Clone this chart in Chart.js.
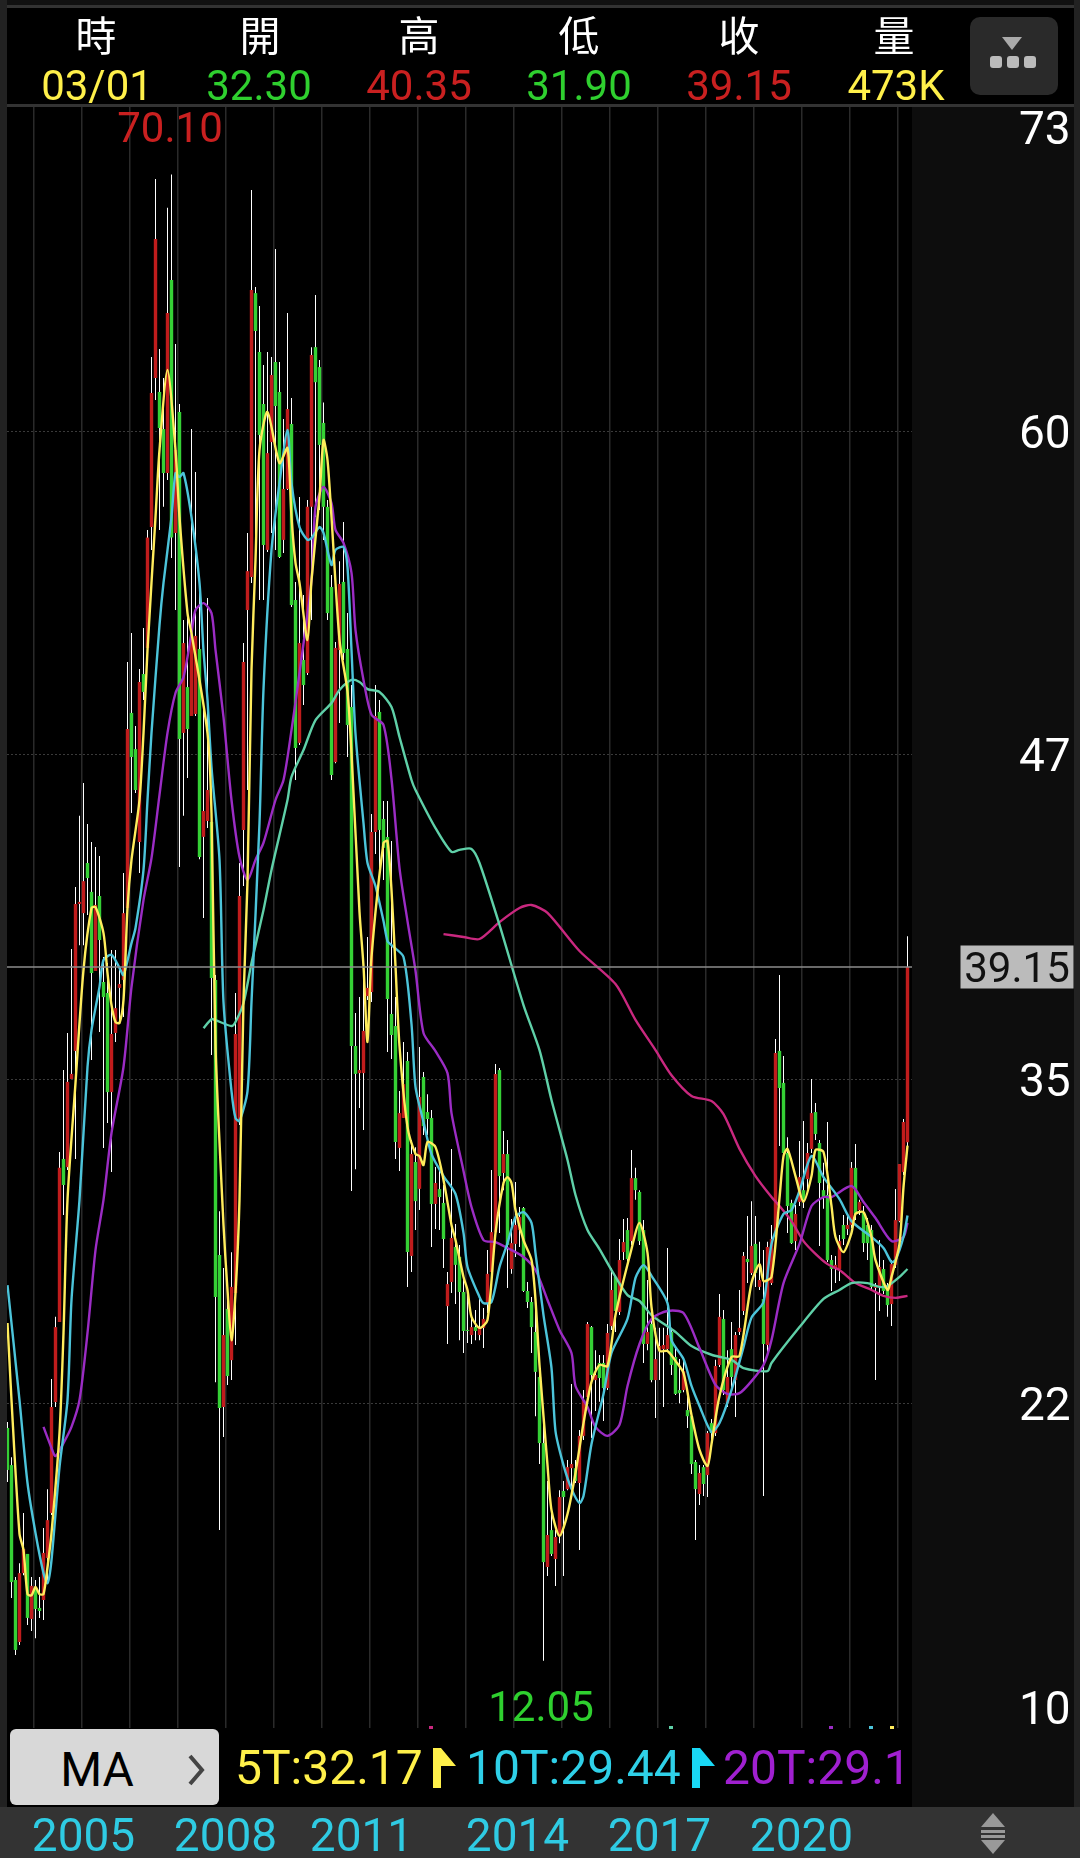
<!DOCTYPE html>
<html>
<head>
<meta charset="utf-8">
<script src="https://cdn.jsdelivr.net/npm/chart.js@4/dist/chart.umd.min.js"></script>
<style>
    html, body { margin: 0; padding: 0; background: #000; }
    body { position: relative; width: 1080px; height: 1858px; overflow: hidden; font-family: Roboto, sans-serif; }
    .box { position: absolute; }
    .t { position: absolute; transform: translate(-50%, -50%); white-space: nowrap; line-height: 1; z-index: 3; }
    .l { position: absolute; transform: translateY(-50%); white-space: nowrap; line-height: 1; z-index: 3; font-size: 48px; }
    .h { font-family: "Noto Sans CJK TC", sans-serif; font-size: 41px; color: #fff; }
    .v { font-size: 42px; }
    .tip { position: absolute; top: 1726px; width: 4px; height: 3px; z-index: 3; }
    canvas { position: absolute; left: 0; top: 0; z-index: 1; }
    svg { position: absolute; z-index: 3; }
</style>
</head>
<body>
<!-- frame and panels -->
<div class="box" style="left:0;top:0;width:1080px;height:5px;background:#111"></div>
<div class="box" style="left:0;top:5px;width:1080px;height:3px;background:#333"></div>
<div class="box" style="left:0;top:104px;width:1080px;height:3px;background:#333"></div>
<div class="box" style="left:0;top:0;width:7px;height:1807px;background:#222"></div>
<div class="box" style="left:912px;top:107px;width:162px;height:1700px;background:#0d0d0d"></div>
<div class="box" style="left:1074px;top:0;width:6px;height:1807px;background:#222"></div>
<div class="box" style="left:0;top:1807px;width:1080px;height:51px;background:#333"></div>

<!-- quote header -->
<div class="t h" style="left:96px;top:33px">時</div>
<div class="t h" style="left:260px;top:33px">開</div>
<div class="t h" style="left:419px;top:33px">高</div>
<div class="t h" style="left:579px;top:33px">低</div>
<div class="t h" style="left:739px;top:33px">收</div>
<div class="t h" style="left:894px;top:33px">量</div>
<div class="t v" style="left:97px;top:86px;color:#fff04a">03/01</div>
<div class="t v" style="left:259px;top:86px;color:#2fd02f">32.30</div>
<div class="t v" style="left:419px;top:86px;color:#c92020">40.35</div>
<div class="t v" style="left:579px;top:86px;color:#2fd02f">31.90</div>
<div class="t v" style="left:739px;top:86px;color:#c92020">39.15</div>
<div class="t v" style="left:896px;top:86px;color:#fff04a">473K</div>
<div class="box" style="left:970px;top:17px;width:88px;height:78px;background:#2a2a2a;border-radius:10px;z-index:2"></div>
<svg style="left:970px;top:17px" width="88" height="78">
    <polygon points="32,20 52,20 42,33" fill="#aaa"/>
    <rect x="20" y="39" width="12" height="12" rx="3" fill="#bbb"/>
    <rect x="37" y="39" width="12" height="12" rx="3" fill="#bbb"/>
    <rect x="54" y="39" width="12" height="12" rx="3" fill="#bbb"/>
</svg>

<!-- high, low and last price labels -->
<div class="t v" style="left:170px;top:128px;color:#c92020">70.10</div>
<div class="t v" style="left:541px;top:1707px;color:#2fd02f">12.05</div>
<div class="t v" style="left:1017px;top:967px;width:113px;height:43px;line-height:43px;text-align:center;background:#bbb;color:#111">39.15</div>

<!-- small arrow tips on the bottom edge of the plot -->
<div class="tip" style="left:429px;background:#c9287f"></div>
<div class="tip" style="left:669px;background:#5fd0a8"></div>
<div class="tip" style="left:829px;background:#9b2cc4"></div>
<div class="tip" style="left:869px;background:#4cc4da"></div>
<div class="tip" style="left:890px;background:#ffec5c"></div>

<!-- MA strip -->
<div class="box" style="left:10px;top:1729px;width:209px;height:76px;background:#d8d8d8;border-radius:6px;z-index:2"></div>
<div class="t" style="left:97px;top:1770px;font-size:48px;color:#000">MA</div>
<svg style="left:184px;top:1752px" width="24" height="36">
    <polyline points="6,4 18,18 6,32" fill="none" stroke="#444" stroke-width="4"/>
</svg>
<div class="l" style="left:235px;top:1768px;color:#fff04a">5T:32.17</div>
<svg style="left:433px;top:1748px" width="24" height="40"><polygon points="0,0 8,0 23,18 8,18 8,40 0,40" fill="#fff04a"/></svg>
<div class="l" style="left:466px;top:1768px;color:#2fd0e8">10T:29.44</div>
<svg style="left:692px;top:1748px" width="24" height="40"><polygon points="0,0 8,0 23,18 8,18 8,40 0,40" fill="#19d8f5"/></svg>
<div class="l" style="left:723px;top:1768px;color:#a020d0">20T:29.1</div>

<!-- sort icon -->
<svg style="left:981px;top:1813px" width="24" height="41">
    <polygon points="12,0 24,14 0,14" fill="#999"/>
    <rect x="0" y="17" width="24" height="3" fill="#999"/>
    <rect x="0" y="22" width="24" height="3" fill="#999"/>
    <polygon points="0,27 24,27 12,41" fill="#999"/>
</svg>

<canvas id="kline" width="1080" height="1858"></canvas>

<script>
// monthly candles, oldest first
const openPrice = [
    21.14,19.69,15.2,12.78,15.47,16.22,13.68,14.89,14.11,14.42,
    16.06,17.82,22.15,25.28,31.65,31.33,34.77,35.87,41.61,41.25,
    43.21,42.08,38.99,41.92,38.56,38.13,34.26,36.57,38.33,38.64,
    41.45,49.07,47.66,44.03,50.59,51.61,56.33,62.15,61.61,60.16,
    58.44,65.98,56.1,60.83,48.29,50.08,48.95,49.03,51.57,44.23,
    44.85,44.81,38.64,27.9,21.96,25.79,23.79,26.41,33.17,44.5,
    53.09,54.38,65.47,63.17,61.14,55.44,59.65,62.78,61.61,55.83,
    57.82,60.36,53.48,47.9,51.14,50.63,57.12,63.36,62.58,60.4,
    57.12,53.99,47.15,51.53,54.19,51.57,49.3,36.06,35.0,35.0,
    38.01,38.17,44.42,49.11,44.93,44.22,37.31,36.84,32.08,33.25,
    35.47,27.86,31.53,30.48,34.85,33.48,33.25,29.89,30.47,29.93,
    25.9,26.84,28.21,27.82,26.45,24.97,24.77,25.08,24.77,25.05,
    26.02,27.23,28.79,35.12,31.1,31.84,27.35,28.33,28.87,29.73,
    26.49,26.06,24.89,23.13,20.55,15.71,17.15,16.02,16.92,18.68,
    18.75,19.57,19.57,18.99,20.83,22.35,25.08,23.01,23.68,23.68,
    22.7,25.12,27.04,25.67,28.01,28.87,28.44,30.9,30.36,28.87,
    24.42,25.2,23.01,24.18,24.22,24.22,24.89,23.91,22.62,22.62,
    21.84,21.6,19.81,18.56,19.61,19.3,21.33,20.94,23.6,25.4,
    22.11,24.22,23.01,24.89,25.71,27.74,27.19,28.33,26.65,26.18,
    24.38,26.8,28.68,35.87,34.62,31.88,29.93,28.44,29.97,30.43,
    30.86,32.04,33.48,32.27,30.43,30.24,27.7,27.35,27.35,29.07,
    28.91,29.07,31.3,29.65,29.57,29.07,28.87,26.61,26.65,27.35,
    26.65,25.98,27.5,29.22,31.14,32.3
];
const closePrice = [
    19.5,15.12,12.47,15.47,16.41,13.72,14.97,14.07,13.99,16.26,
    17.54,21.96,25.08,31.3,30.63,34.66,34.97,41.61,41.69,42.5,
    42.62,38.91,41.57,40.2,37.97,34.26,36.53,37.54,38.48,41.25,
    48.44,47.35,46.06,50.28,49.89,55.92,61.57,67.58,60.2,58.44,
    64.69,55.92,59.34,48.05,51.8,48.44,52.04,52.08,43.44,45.24,
    46.06,38.72,26.26,21.92,24.77,23.17,26.65,36.53,41.92,51.06,
    54.61,65.59,63.99,59.93,55.63,59.22,62.27,61.06,55.16,57.82,
    60.94,53.29,47.7,51.8,50.16,57.12,63.05,61.99,59.54,57.12,
    52.97,46.65,51.61,54.11,51.41,48.6,36.06,34.97,35.12,36.65,
    38.33,44.42,48.95,44.5,43.8,37.9,36.49,32.31,33.44,34.57,
    28.01,31.84,30.0,34.07,32.93,33.21,29.89,30.71,30.16,28.52,
    26.76,28.56,27.51,26.45,24.93,24.93,25.08,24.93,25.05,25.4,
    27.16,28.79,34.97,30.98,31.84,28.29,28.36,29.07,29.38,26.49,
    26.06,25.08,23.33,20.55,15.9,16.96,16.22,16.88,18.44,18.44,
    19.61,19.73,19.07,20.83,22.23,25.2,23.21,23.21,23.09,22.7,
    24.85,26.53,25.71,27.7,28.4,27.74,30.9,30.43,28.44,24.42,
    24.89,23.01,23.83,24.34,24.38,24.77,23.6,22.47,22.5,23.36,
    21.6,19.73,18.75,19.38,18.95,20.94,20.94,23.56,25.48,22.62,
    23.13,23.13,24.77,25.05,27.86,27.62,28.25,27.19,26.92,24.42,
    28.21,28.52,35.79,34.42,31.88,29.81,28.36,29.5,30.94,30.05,
    31.88,33.44,32.62,30.71,30.16,27.7,27.35,27.51,28.44,28.52,
    29.07,31.3,29.5,29.97,28.36,28.36,26.65,26.72,27.43,26.49,
    25.94,27.54,29.26,31.45,33.09,39.15
];
const highPrice = [
    21.37,20.0,15.32,15.86,17.82,16.22,15.32,15.2,15.32,17.23,
    18.75,23.05,25.48,31.92,35.12,36.57,39.85,42.27,45.05,46.33,
    44.73,44.03,43.83,43.48,39.54,39.3,39.81,39.81,39.15,42.82,
    51.06,52.19,48.56,50.79,52.39,56.22,62.97,69.93,63.29,62.15,
    68.8,70.1,63.48,61.14,52.7,52.97,60.16,58.48,54.38,49.42,
    53.56,45.67,38.83,29.61,27.39,26.53,28.0,38.13,43.21,51.8,
    56.1,69.5,65.71,64.97,62.66,63.17,62.97,67.19,62.78,60.55,
    64.69,61.37,54.19,57.51,53.68,57.39,63.36,65.4,62.86,61.2,
    57.39,54.46,51.84,55.0,56.53,52.97,50.16,37.35,37.97,39.34,
    40.32,45.12,50.16,49.58,45.63,45.63,44.07,37.97,34.3,36.22,
    35.83,32.39,32.11,36.02,35.04,34.18,33.56,31.33,31.22,30.63,
    27.23,32.04,29.11,28.29,26.92,26.41,25.48,25.75,26.22,25.83,
    28.09,31.22,35.36,35.2,32.74,32.39,29.3,30.75,29.77,29.77,
    26.84,26.26,26.18,23.44,21.65,19.07,18.09,17.15,18.71,19.07,
    19.89,22.86,19.89,21.06,22.62,25.28,25.12,24.18,23.99,23.99,
    25.2,27.39,27.08,28.52,29.3,29.34,32.0,31.3,30.43,29.26,
    26.92,25.36,25.05,25.05,25.05,28.17,25.05,24.26,23.83,23.83,
    22.35,21.72,19.89,19.69,19.69,21.02,21.49,23.8,26.37,25.75,
    24.18,25.28,24.89,26.53,28.01,29.42,30.0,29.42,28.41,28.09,
    28.41,29.07,36.33,38.83,35.67,32.5,30.05,29.85,32.35,33.13,
    32.27,34.77,33.83,32.39,31.5,33.09,27.9,27.86,28.68,29.46,
    29.46,31.53,32.23,30.05,29.81,29.34,29.07,26.8,28.48,27.7,
    26.8,27.7,30.47,31.45,33.21,40.35
];
const lowPrice = [
    19.03,14.5,12.27,12.66,15.39,13.44,13.21,12.93,13.72,13.64,
    15.08,17.74,21.96,25.28,29.46,31.22,34.77,31.65,40.0,40.0,
    41.18,35.51,38.99,36.61,32.08,33.05,31.14,36.22,36.96,37.19,
    41.25,45.16,45.94,42.82,49.58,51.53,55.44,61.29,56.22,57.12,
    58.17,55.12,53.09,43.05,45.05,46.53,48.95,48.95,43.36,41.06,
    44.58,35.71,22.93,17.15,20.79,22.82,23.01,24.38,32.97,42.31,
    46.06,54.15,55.05,53.48,53.48,55.36,56.1,55.44,55.12,55.32,
    57.78,53.21,46.45,47.82,49.38,50.55,52.7,56.72,57.0,55.83,
    52.7,46.45,47.11,48.68,51.14,47.35,30.4,31.25,33.64,32.78,
    37.86,37.78,43.56,42.94,42.54,35.83,35.55,31.65,31.18,33.25,
    26.65,27.23,28.87,29.65,32.58,32.58,28.21,28.91,28.87,27.39,
    24.42,26.41,25.98,24.57,24.07,24.46,24.42,24.57,24.57,24.26,
    25.63,27.04,28.68,28.76,30.43,26.61,27.16,27.82,28.21,26.45,
    25.83,24.07,21.6,19.73,12.05,15.36,16.14,14.97,16.64,15.36,
    18.71,18.71,18.99,16.37,20.67,22.31,20.75,21.8,22.16,21.41,
    22.62,24.97,24.89,25.55,27.7,27.62,28.29,30.05,28.29,23.68,
    24.18,22.93,21.53,23.01,21.96,24.11,23.21,22.43,22.11,22.54,
    21.14,19.34,16.76,18.13,18.48,18.44,20.67,20.83,23.52,22.43,
    21.96,22.62,21.57,24.77,25.55,26.8,27.12,26.65,26.53,18.48,
    23.99,26.72,28.56,32.15,31.8,28.76,28.33,28.09,29.81,29.73,
    30.43,31.88,32.39,28.25,29.7,27.62,26.49,26.8,26.88,28.29,
    28.68,28.95,29.26,29.46,28.01,27.7,26.53,23.01,25.71,26.37,
    25.48,25.12,27.39,29.18,31.02,31.9
];

// moving averages: [candle index, value]
const ma5 = [[0,25.24],[1,22.23],[3,17.0],[4,16.37],[5,14.65],[6,14.6],[7,14.93],[8,14.65],[9,14.65],[10,15.7],[11,17.04],[13,20.94],[14,24.85],[15,30.05],[17,34.62],[19,39.03],[21,41.45],[22,41.49],[24,40.47],[25,38.91],[26,37.66],[27,37.0],[28,36.96],[29,37.86],[30,41.45],[31,43.33],[33,45.67],[34,48.28],[35,51.53],[37,56.72],[38,59.34],[40,62.47],[42,59.34],[43,56.72],[45,52.97],[46,52.19],[50,48.28],[51,45.16],[52,36.06],[54,29.07],[55,26.53],[56,24.57],[57,26.41],[58,30.05],[59,37.86],[60,42.5],[61,50.75],[62,55.05],[63,59.34],[65,60.83],[68,58.83],[70,59.42],[71,56.72],[72,54.93],[73,54.15],[75,51.92],[76,54.26],[78,57.51],[79,59.73],[80,58.95],[81,56.72],[83,51.92],[85,49.9],[86,47.5],[88,41.3],[89,39.18],[90,36.22],[91,39.54],[94,43.99],[95,44.07],[96,42.15],[97,39.18],[98,36.06],[100,32.9],[102,31.84],[103,31.76],[104,31.41],[105,32.31],[107,32.11],[109,30.83],[111,29.07],[112,28.48],[114,27.04],[115,26.53],[116,25.48],[118,25.05],[120,25.36],[122,28.76],[124,30.71],[125,30.94],[126,30.71],[127,29.65],[129,28.48],[131,27.7],[132,26.14],[133,23.6],[135,19.69],[136,17.93],[138,16.92],[140,17.78],[142,19.38],[144,21.33],[146,22.94],[148,23.6],[150,23.56],[152,25.55],[156,28.13],[158,29.15],[160,27.98],[161,25.86],[163,24.15],[165,24.15],[167,23.76],[169,23.29],[171,21.65],[173,20.28],[175,19.65],[176,20.51],[178,22.39],[181,23.91],[183,23.95],[186,26.8],[188,27.54],[189,26.88],[191,27.04],[193,30.12],[194,31.76],[195,32.04],[197,30.98],[199,29.97],[201,30.98],[202,32.0],[204,31.92],[206,29.81],[207,28.6],[209,28.01],[211,28.76],[212,29.5],[214,29.57],[216,28.6],[217,27.7],[220,26.53],[221,27.04],[223,28.33],[224,30.55],[225,32.17]];
const ma10 = [[0,26.72],[3,22.23],[5,18.99],[7,17.04],[9,15.47],[10,15.08],[11,15.98],[13,19.61],[15,22.23],[16,26.14],[18,30.05],[20,35.24],[21,36.68],[23,38.37],[24,39.42],[26,39.62],[28,39.11],[29,38.83],[31,40.08],[32,40.67],[34,42.94],[35,45.67],[36,48.29],[38,52.5],[39,54.15],[41,56.72],[42,58.44],[43,58.29],[44,58.44],[46,56.72],[48,54.15],[49,51.5],[50,49.58],[51,46.96],[53,43.33],[54,37.78],[56,34.3],[57,33.25],[58,33.13],[60,34.3],[61,37.78],[63,44.77],[64,50.0],[66,55.44],[68,58.05],[70,60.12],[71,58.05],[73,56.33],[75,55.83],[76,55.9],[78,56.33],[79,56.1],[81,54.85],[82,55.44],[84,55.55],[85,54.77],[86,51.53],[87,48.25],[89,44.77],[90,43.21],[92,42.31],[94,40.94],[95,40.16],[96,40.0],[99,39.54],[101,36.92],[102,34.46],[104,33.09],[106,31.84],[109,30.98],[112,30.28],[114,28.76],[115,27.43],[118,26.26],[119,26.02],[121,26.06],[123,27.43],[125,28.36],[127,29.38],[129,29.57],[131,29.15],[132,27.97],[134,25.55],[136,23.48],[137,21.02],[139,19.69],[141,18.76],[143,18.21],[144,18.48],[146,20.51],[149,22.47],[151,24.07],[155,25.4],[157,27.0],[159,27.5],[161,27.08],[165,26.02],[166,24.57],[169,23.83],[171,22.78],[173,22.0],[176,20.98],[178,21.33],[181,22.62],[184,24.3],[186,25.45],[189,26.06],[191,28.33],[194,29.5],[196,29.65],[198,30.4],[201,31.76],[204,30.94],[208,30.08],[211,29.22],[216,28.6],[219,28.17],[221,27.62],[222,27.7],[224,28.6],[225,29.44]];
const ma20 = [[9,21.18],[11,20.36],[12,20.04],[14,20.55],[16,21.18],[18,22.23],[20,24.85],[22,28.09],[24,30.05],[26,32.66],[29,35.24],[31,38.36],[34,41.76],[36,43.4],[38,45.87],[40,48.29],[42,49.85],[44,50.47],[46,52.19],[47,53.09],[49,53.36],[51,52.97],[52,51.53],[54,48.91],[56,45.67],[58,43.44],[60,42.54],[62,43.33],[64,44.0],[67,45.67],[69,46.45],[71,48.4],[73,50.63],[76,54.26],[77,57.12],[79,57.9],[81,57.27],[82,56.22],[84,55.71],[86,54.54],[87,52.31],[89,50.36],[91,49.0],[94,48.6],[96,46.49],[98,43.01],[100,40.94],[102,39.0],[104,36.57],[107,35.86],[110,35.0],[111,33.44],[114,31.18],[116,29.77],[119,28.48],[122,28.4],[125,28.17],[129,27.82],[132,27.31],[135,26.14],[138,24.97],[141,24.07],[142,22.78],[145,21.96],[147,21.18],[150,20.83],[153,21.26],[155,22.78],[158,24.42],[161,25.4],[165,25.71],[169,25.63],[173,24.26],[177,22.82],[180,22.47],[183,22.5],[186,22.97],[189,23.6],[191,24.57],[194,26.8],[198,28.33],[201,29.81],[204,30.16],[206,30.16],[211,30.59],[214,29.97],[217,29.34],[221,28.44],[224,28.6],[225,29.15]];
const ma60 = [[49,36.76],[51,37.11],[52,37.07],[56,36.84],[57,37.0],[59,37.74],[61,39.3],[64,41.37],[66,42.94],[70,45.67],[71,46.57],[74,47.62],[77,48.79],[81,49.46],[83,49.97],[86,50.36],[88,50.28],[90,50.0],[93,49.89],[96,49.3],[98,48.13],[101,46.45],[102,46.06],[107,44.57],[111,43.64],[113,43.72],[116,43.76],[118,43.21],[123,40.79],[129,37.66],[133,35.9],[136,33.95],[140,31.61],[142,30.24],[145,28.87],[148,28.13],[151,27.31],[155,26.33],[158,26.1],[161,25.55],[167,24.89],[171,24.34],[176,24.0],[181,23.8],[184,23.48],[190,23.36],[191,23.68],[198,25.08],[204,26.18],[208,26.53],[211,26.8],[215,26.8],[218,26.65],[220,26.68],[223,27.04],[225,27.35]];
const ma120 = [[109,40.43],[114,40.32],[118,40.24],[123,40.9],[128,41.45],[131,41.57],[135,41.26],[143,39.77],[152,38.48],[157,37.08],[162,35.9],[166,34.92],[171,34.11],[176,33.91],[179,33.4],[183,32.04],[187,30.98],[191,30.16],[193,29.81],[196,29.22],[199,28.44],[202,27.94],[205,27.54],[208,27.31],[212,26.8],[216,26.53],[219,26.3],[222,26.22],[225,26.3]];

const lastPrice = 39.15;

// y axis: rounded labels, end ones sit inside the plot
const priceTicks = [71.92, 60.08, 47.43, 34.77, 22.11, 10.24];
const priceLabels = ["73", "60", "47", "35", "22", "10"];

// x axis: year labels and the yearly grid
const yearTicks = [19, 54.5, 88.5, 127.5, 163, 198.5];
const yearLabels = ["2005", "2008", "2011", "2014", "2017", "2020"];
const yearGrid = [6.625, 18.625, 30.625, 42.625, 54.625, 66.625, 78.625, 90.625, 102.625, 114.625, 126.625, 138.625, 150.625, 162.625, 174.625, 186.625, 198.625, 210.625, 222.625];

const RED = "#c01c1c";
const GREEN = "#35d035";

const wicks = highPrice.map((h, i) => ({ x: i, y: [lowPrice[i], h] }));
const bodies = openPrice.map((o, i) => ({ x: i, y: [o, closePrice[i]] }));
const bodyColors = openPrice.map((o, i) => closePrice[i] >= o ? RED : GREEN);

function maLine(label, points, color, order) {
    return {
        type: "line",
        label: label,
        data: points.map(p => ({ x: p[0], y: p[1] })),
        borderColor: color,
        borderWidth: 2.4,
        pointRadius: 0,
        tension: 0.25,
        order: order
    };
}

// labels hang over the plot edges, keep them from pushing the chart area in
function noEdgePadding(axis) {
    axis.paddingLeft = 0;
    axis.paddingRight = 0;
    axis.paddingTop = 0;
    axis.paddingBottom = 0;
}

new Chart(document.getElementById("kline").getContext("2d"), {
    type: "bar",
    data: {
        datasets: [
            { label: "range", data: wicks, backgroundColor: "#ffffff", barThickness: 1, grouped: false, inflateAmount: 0, order: 20 },
            { label: "body", data: bodies, backgroundColor: bodyColors, barThickness: 3.4, grouped: false, inflateAmount: 0, order: 19 },
            maLine("MA120", ma120, "#c9287f", 6),
            maLine("MA60", ma60, "#5fd0a8", 5),
            maLine("MA20", ma20, "#9b2cc4", 4),
            maLine("MA10", ma10, "#4cc4da", 3),
            maLine("MA5", ma5, "#ffec5c", 2),
            {
                type: "line",
                label: "last",
                data: [{ x: -0.125, y: lastPrice }, { x: 226.125, y: lastPrice }],
                borderColor: "#8c8c8c",
                borderWidth: 1.5,
                pointRadius: 0,
                order: 1
            }
        ]
    },
    options: {
        responsive: false,
        animation: false,
        layout: { padding: { left: 7, top: 107, right: 0, bottom: 0 } },
        plugins: { legend: { display: false }, tooltip: { enabled: false } },
        scales: {
            x: {
                type: "linear",
                min: -0.125,
                max: 226.125,
                offset: false,
                afterFit: (axis) => { axis.height = 130; noEdgePadding(axis); },
                afterBuildTicks: (axis) => {
                    axis.ticks = yearGrid.concat(yearTicks).map(v => ({ value: v }));
                },
                grid: {
                    offset: false,
                    drawTicks: false,
                    lineWidth: 1.5,
                    color: (ctx) => yearGrid.includes(ctx.tick.value) ? "#2a2a2a" : "transparent"
                },
                border: { display: false },
                ticks: {
                    autoSkip: false,
                    maxRotation: 0,
                    padding: 84,
                    color: "#2fcbe3",
                    font: { family: "Roboto", size: 46 },
                    callback: (value) => {
                        const at = yearTicks.indexOf(value);
                        return at >= 0 ? yearLabels[at] : "";
                    }
                }
            },
            y: {
                type: "linear",
                position: "right",
                min: 9.42,
                max: 72.74,
                afterFit: (axis) => { axis.width = 168; noEdgePadding(axis); },
                afterBuildTicks: (axis) => {
                    axis.ticks = priceTicks.map(v => ({ value: v }));
                },
                grid: {
                    drawTicks: false,
                    lineWidth: 1,
                    color: (ctx) => {
                        const at = priceTicks.indexOf(ctx.tick.value);
                        return at > 0 && at < priceTicks.length - 1 ? "#3a3a3a" : "transparent";
                    }
                },
                border: { display: false, dash: [2, 2] },
                ticks: {
                    crossAlign: "near",
                    padding: 107,
                    labelOffset: 5,
                    color: "#ffffff",
                    font: { family: "Roboto", size: 46 },
                    callback: (value) => priceLabels[priceTicks.indexOf(value)]
                }
            }
        }
    }
});
</script>
</body>
</html>
